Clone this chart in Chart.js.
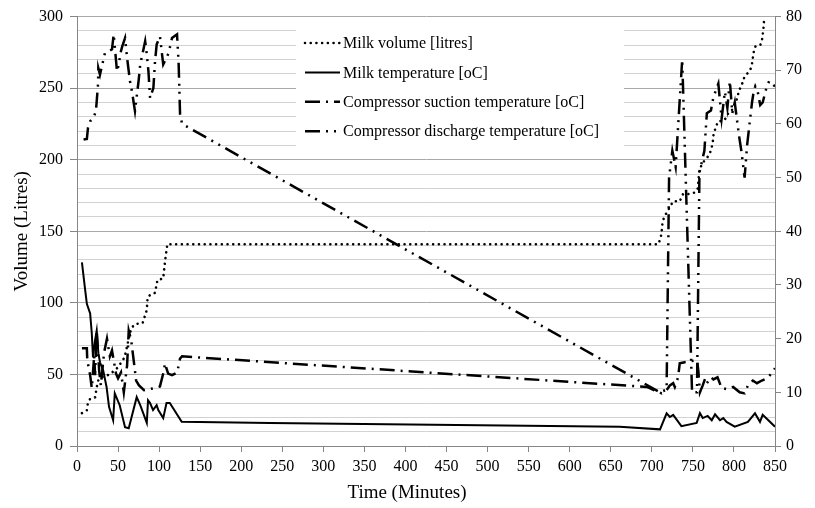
<!DOCTYPE html>
<html>
<head>
<meta charset="utf-8">
<script src="https://cdn.jsdelivr.net/npm/chart.js@4.4.1/dist/chart.umd.min.js"></script>
<style>
  html, body { margin: 0; padding: 0; background: #fff; }
  #wrap { width: 815px; height: 508px; position: relative; }
</style>
</head>
<body>
<div id="wrap"><canvas id="chart"></canvas></div>
<script>
// Milk volume [litres] (left axis)
const volTime   = [6,12,13,16,22,24,26,30,40,50, 58,63,66,70,80,85,86,90,95,98, 105,107,110,708,711,712,713,715,720,724, 726,734,738,744,752,756,757,758,762,767, 771,774,775,778,781,786,789,791,798,801, 804,806,810,811,816,820,822,823,824,826, 832,834,835,836,837];
const volLitres = [23,25,29,33,34,41,46,48,50,55, 62,75,82,85,86,95,104,106,107,116, 117,128,141,141,146,150,156,160,165,169, 171,171,176,176,177,180,187,193,198,201, 205,211,217,223,227,227,228,231,235,239, 243,248,253,256,260,263,267,271,275,279, 280,283,287,292,300];

// Milk temperature [oC] (right axis)
const milkTime = [6,10,12,16,18,19.5,22,24,26,28, 32,36,39,44,46,52,58.5,63,72.7,77, 85,86.5,89,92.6,97,99,105,109,113,127.5, 235,661,710,718,722,726,736,754.6,758.6,762, 768,773,777,783,787,791,801,817,825.6,831.7, 835,850];
const milkTemp = [34.2,29,26.5,24.7,21,16.5,19.7,21.5,17.3,15.6, 14,11,7.3,4.8,9.8,7.6,3.5,3.3,9.1,7.6, 4.3,8.5,8,6.7,7.6,6.7,5.2,8,8,4.5, 4.3,3.6,3.1,6.1,5.4,5.8,3.7,4.3,6.1,5.2, 5.6,4.8,5.9,4.8,5.2,4.5,3.6,4.5,6.1,4.5, 5.8,3.6];

// Compressor suction temperature [oC] (right axis)
const suctionTime = [6,12,12.5,16,18,21,22,24,27,29, 33,36.5,40,42.6,47.5,50,53.6,57,61,63, 66,69,72,75.5,81.6,95,101,106,107,111, 115.7,122,125.5,128,694,712,718,722,726,728, 732,734,740,755,756.6,758.6,762,765,767,772, 775,780,785,791,799,807,813,817,823,828, 834,840,847,850];
const suctionTemp = [18.2,18.2,16,13.2,10.8,16.9,13.2,21.5,14,11.3, 17.4,20,16.7,17.8,13.5,12.6,13.7,10,15,21.5, 19.7,16,12.2,11.3,10.4,10.8,11.1,14.1,15.4,13.5, 13.2,13.7,16.3,16.7,11,9.8,10.4,11.3,11.7,11, 12.8,15.4,15.6,16,14.1,10,11.3,12.6,11.7,12.8, 12.4,12.8,10.8,10.6,11,10,9.8,11.3,12.2,11.7, 12.2,12.6,13.7,14.5];

// Compressor discharge temperature [oC] (right axis)
const dischargeTime = [8,12,13.4,16,20,23,24,25.6,26,28, 34,38.6,42.6,44.7,48.7,51,52.6,55,58.5,61, 64.5,67,70.6,75,77,83,85,87,89,93, 95,97,101,105,111.6,115.7,121.8,123.8,125.5,128, 710,718,721,725,729,737,749,755,758,764, 767,772,775,781,785,789,792,795,798,801, 806,809,813,816,819,822,824,826,829,832, 835,840,843,846,850];
const dischargeTemp = [57.1,57.2,59.3,60.5,61.1,62.4,64.2,67.4,70.4,69.2, 73.2,73.5,73.9,76.7,69.8,71.1,73,74.4,76,72.3, 68,66,62.4,68,71.1,75.4,73,69.8,64.8,66.7, 71.6,74.8,76.3,71.1,73.2,76,76.7,71.1,61.8,60, 10,10.5,50,55,52,72,10,10,51,55, 62,62.5,65,67.5,61,66,63,68,62,64, 58,55,50,56,60,64,66,67,66,63.5, 64,67,68,67.5,67];

const seriesNames = [
  'Milk volume [litres]',
  'Milk temperature [oC]',
  'Compressor suction temperature [oC]',
  'Compressor discharge temperature [oC]'
];

const FONT = "'Liberation Serif', 'Times New Roman', serif";
const AXIS = '#868686';

function pts(xs, ys) {
  return xs.map((x, i) => ({ x: x, y: ys[i] }));
}

// legend drawn inside the plot on a white box, like the original
const boxLegend = {
  id: 'boxLegend',
  beforeDatasetsDraw(chart) {
    const ctx = chart.ctx;
    ctx.save();
    ctx.fillStyle = '#fff';
    ctx.fillRect(296, 23, 328, 124);
    chart.data.datasets.forEach((ds, i) => {
      const y = 43 + i * 29.4;
      ctx.beginPath();
      ctx.setLineDash(ds.borderDash || []);
      ctx.lineCap = ds.borderCapStyle || 'butt';
      ctx.lineWidth = ds.borderWidth;
      ctx.strokeStyle = ds.borderColor;
      ctx.moveTo(305, y);
      ctx.lineTo(340, y);
      ctx.stroke();
      ctx.setLineDash([]);
      ctx.fillStyle = '#000';
      ctx.font = '16px ' + FONT;
      ctx.textBaseline = 'middle';
      ctx.textAlign = 'left';
      ctx.fillText(ds.label, 343, y + 1);
    });
    ctx.restore();
  }
};

new Chart(document.getElementById('chart'), {
  type: 'line',
  data: {
    datasets: [
      {
        label: seriesNames[0],
        data: pts(volTime, volLitres),
        yAxisID: 'y',
        borderColor: '#000',
        borderWidth: 2.6,
        borderDash: [0.01, 5.7],
        borderCapStyle: 'round',
        pointRadius: 0,
        tension: 0
      },
      {
        label: seriesNames[1],
        data: pts(milkTime, milkTemp),
        yAxisID: 'y1',
        borderColor: '#000',
        borderWidth: 2,
        pointRadius: 0,
        tension: 0
      },
      {
        label: seriesNames[2],
        data: pts(suctionTime, suctionTemp),
        yAxisID: 'y1',
        borderColor: '#000',
        borderWidth: 2.5,
        borderDash: [15, 6, 2, 6],
        pointRadius: 0,
        tension: 0
      },
      {
        label: seriesNames[3],
        data: pts(dischargeTime, dischargeTemp),
        yAxisID: 'y1',
        borderColor: '#000',
        borderWidth: 2.5,
        borderDash: [15, 6, 2, 6, 2, 6],
        pointRadius: 0,
        tension: 0
      }
    ]
  },
  options: {
    responsive: true,
    maintainAspectRatio: false,
    animation: false,
    layout: { padding: { top: 15, left: 0, right: 0, bottom: 0 } },
    plugins: { legend: { display: false }, tooltip: { enabled: false } },
    scales: {
      x: {
        type: 'linear',
        min: 0,
        max: 850,
        ticks: { stepSize: 50, autoSkip: false, maxRotation: 0, padding: 5, color: '#000', font: { family: FONT, size: 16 } },
        grid: { drawOnChartArea: false, drawTicks: true, tickLength: 6, tickColor: AXIS },
        border: { color: AXIS },
        title: { display: true, text: 'Time (Minutes)' + '\u00a0'.repeat(8), color: '#000', font: { family: FONT, size: 19 }, padding: { top: 0, bottom: 4 } },
        afterFit: s => { s.height = 62; }
      },
      y: {
        position: 'left',
        min: 0,
        max: 300,
        ticks: {
          stepSize: 10,
          autoSkip: false,
          padding: 7,
          color: '#000',
          font: { family: FONT, size: 16 },
          callback: v => (v % 50 === 0 ? v : '')
        },
        grid: {
          color: c => (c.tick && c.tick.value % 50 === 0 ? '#a8a8a8' : '#d2d2d2'),
          tickColor: c => (c.tick && c.tick.value % 50 === 0 ? AXIS : 'rgba(0,0,0,0)'),
          tickLength: 7
        },
        border: { color: AXIS },
        title: { display: true, text: 'Volume (Litres)', color: '#000', font: { family: FONT, size: 19 }, padding: { top: 11, bottom: 0 } },
        afterFit: s => { s.width = 77; }
      },
      y1: {
        position: 'right',
        min: 0,
        max: 80,
        ticks: { stepSize: 10, padding: 5, color: '#000', font: { family: FONT, size: 16 } },
        grid: { drawOnChartArea: false, tickLength: 6, tickColor: AXIS },
        border: { color: AXIS },
        afterFit: s => { s.width = 40; }
      }
    }
  },
  plugins: [boxLegend]
});
</script>
</body>
</html>
